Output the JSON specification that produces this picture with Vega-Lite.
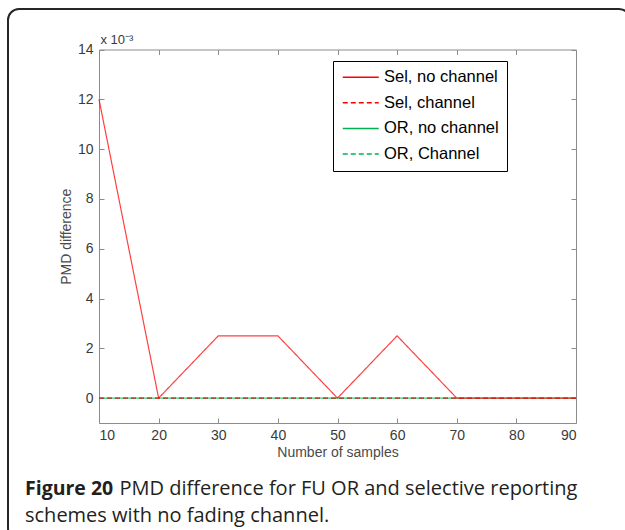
{
  "$schema": "https://vega.github.io/schema/vega-lite/v6.json",
  "width": 622,
  "height": 531,
  "autosize": {"type": "none"},
  "padding": {"left": 8, "top": 9, "right": 0, "bottom": 0},
  "background": "white",
  "config": {
    "view": {"stroke": "#262626", "strokeWidth": 2, "cornerRadius": 11, "fill": "white"},
    "axis": {
      "grid": false,
      "domainColor": "#8c8c8c",
      "domainWidth": 1,
      "tickColor": "#8c8c8c",
      "tickSize": -5,
      "tickWidth": 1,
      "labelFont": "Liberation Sans",
      "labelFontSize": 14,
      "labelColor": "#3a3a3a",
      "titleFont": "Liberation Sans",
      "titleFontSize": 14,
      "titleFontWeight": "normal",
      "titleColor": "#4a4a4a"
    },
    "legend": {
      "orient": "none",
      "legendX": 325,
      "legendY": 52,
      "title": null,
      "strokeColor": "#000000",
      "fillColor": "#ffffff",
      "padding": 8,
      "symbolType": "M0,0H8",
      "symbolSize": 81,
      "symbolOffset": -6.5,
      "symbolStrokeWidth": 1.5,
      "symbolOpacity": 1,
      "labelFont": "Liberation Sans",
      "labelFontSize": 16.5,
      "labelColor": "#000000",
      "labelOffset": 33,
      "rowPadding": 8.6
    }
  },
  "title": {
    "text": "Figure 20",
    "subtitle": "schemes with no fading channel.",
    "orient": "bottom",
    "anchor": "start",
    "frame": "group",
    "font": "Open Sans",
    "fontSize": 19.5,
    "fontWeight": "bold",
    "color": "#231f20",
    "subtitleFont": "Open Sans",
    "subtitleFontSize": 20,
    "subtitleFontWeight": "normal",
    "subtitleColor": "#231f20",
    "subtitlePadding": 6.5,
    "offset": -60,
    "dx": 17
  },
  "data": {
    "values": [
      {"series": "OR, Channel", "samples": 10, "pmd": 0},
      {"series": "OR, Channel", "samples": 20, "pmd": 0},
      {"series": "OR, Channel", "samples": 30, "pmd": 0},
      {"series": "OR, Channel", "samples": 40, "pmd": 0},
      {"series": "OR, Channel", "samples": 50, "pmd": 0},
      {"series": "OR, Channel", "samples": 60, "pmd": 0},
      {"series": "OR, Channel", "samples": 70, "pmd": 0},
      {"series": "OR, Channel", "samples": 80, "pmd": 0},
      {"series": "OR, Channel", "samples": 90, "pmd": 0},
      {"series": "OR, no channel", "samples": 10, "pmd": 0},
      {"series": "OR, no channel", "samples": 20, "pmd": 0},
      {"series": "OR, no channel", "samples": 30, "pmd": 0},
      {"series": "OR, no channel", "samples": 40, "pmd": 0},
      {"series": "OR, no channel", "samples": 50, "pmd": 0},
      {"series": "OR, no channel", "samples": 60, "pmd": 0},
      {"series": "OR, no channel", "samples": 70, "pmd": 0},
      {"series": "OR, no channel", "samples": 80, "pmd": 0},
      {"series": "OR, no channel", "samples": 90, "pmd": 0},
      {"series": "Sel, channel", "samples": 10, "pmd": 0},
      {"series": "Sel, channel", "samples": 20, "pmd": 0},
      {"series": "Sel, channel", "samples": 30, "pmd": 0},
      {"series": "Sel, channel", "samples": 40, "pmd": 0},
      {"series": "Sel, channel", "samples": 50, "pmd": 0},
      {"series": "Sel, channel", "samples": 60, "pmd": 0},
      {"series": "Sel, channel", "samples": 70, "pmd": 0},
      {"series": "Sel, channel", "samples": 80, "pmd": 0},
      {"series": "Sel, channel", "samples": 90, "pmd": 0},
      {"series": "Sel, no channel", "samples": 10, "pmd": 0.012},
      {"series": "Sel, no channel", "samples": 20, "pmd": 0},
      {"series": "Sel, no channel", "samples": 30, "pmd": 0.0025},
      {"series": "Sel, no channel", "samples": 40, "pmd": 0.0025},
      {"series": "Sel, no channel", "samples": 50, "pmd": 0},
      {"series": "Sel, no channel", "samples": 60, "pmd": 0.0025},
      {"series": "Sel, no channel", "samples": 70, "pmd": 0},
      {"series": "Sel, no channel", "samples": 80, "pmd": 0},
      {"series": "Sel, no channel", "samples": 90, "pmd": 0}
    ]
  },
  "layer": [
    {
      "transform": [{"filter": "datum.series !== 'Sel, no channel'"}],
      "mark": {"type": "line", "strokeWidth": 1.2, "opacity": 0.75},
      "encoding": {
        "x": {
          "field": "samples",
          "type": "quantitative",
          "scale": {"domain": [10, 90], "range": [91, 568], "nice": false, "zero": false},
          "axis": {
            "orient": "bottom",
            "offset": -117,
            "values": [10, 20, 30, 40, 50, 60, 70, 80, 90],
            "labelPadding": 10,
            "title": "Number of samples",
            "titleBaseline": "alphabetic",
            "titleY": 33
          }
        },
        "y": {
          "field": "pmd",
          "type": "quantitative",
          "scale": {"domain": [-0.001, 0.014], "range": [414, 40.5], "nice": false, "zero": false},
          "axis": {
            "orient": "left",
            "offset": -91,
            "values": [0, 0.002, 0.004, 0.006, 0.008, 0.01, 0.012, 0.014],
            "labelExpr": "round(datum.value * 1000)",
            "labelPadding": 11,
            "title": "PMD difference",
            "titleBaseline": "alphabetic",
            "titleX": -29
          }
        },
        "color": {
          "field": "series",
          "type": "nominal",
          "scale": {
            "domain": ["Sel, no channel", "Sel, channel", "OR, no channel", "OR, Channel"],
            "range": ["#ff0000", "#ff0000", "#00b050", "#00b050"]
          }
        },
        "strokeDash": {
          "field": "series",
          "type": "nominal",
          "scale": {
            "domain": ["Sel, no channel", "Sel, channel", "OR, no channel", "OR, Channel"],
            "range": [[1, 0], [5, 3], [1, 0], [5, 3]]
          }
        }
      }
    },
    {
      "transform": [{"filter": "datum.series === 'Sel, no channel'"}],
      "mark": {"type": "line", "strokeWidth": 1.2, "opacity": 0.75},
      "encoding": {
        "x": {
          "field": "samples",
          "type": "quantitative",
          "axis": {
            "orient": "top",
            "offset": -40.5,
            "values": [10, 20, 30, 40, 50, 60, 70, 80, 90],
            "labels": false,
            "title": "PMD difference for FU OR and selective reporting",
            "titleFont": "Open Sans",
            "titleFontSize": 20,
            "titleFontWeight": "normal",
            "titleColor": "#231f20",
            "titleAlign": "left",
            "titleBaseline": "alphabetic",
            "titleX": 111,
            "titleY": 444.5
          }
        },
        "y": {
          "field": "pmd",
          "type": "quantitative",
          "axis": {
            "orient": "right",
            "offset": -54,
            "values": [0, 0.002, 0.004, 0.006, 0.008, 0.01, 0.012, 0.014],
            "labels": false,
            "title": "x 10\u207b\u00b3",
            "titleAngle": 0,
            "titleAlign": "left",
            "titleBaseline": "alphabetic",
            "titleFontSize": 13,
            "titleColor": "#3a3a3a",
            "titleX": -476,
            "titleY": 34
          }
        },
        "color": {"field": "series", "type": "nominal"},
        "strokeDash": {"field": "series", "type": "nominal"}
      }
    }
  ],
  "resolve": {"axis": {"x": "independent", "y": "independent"}}
}
